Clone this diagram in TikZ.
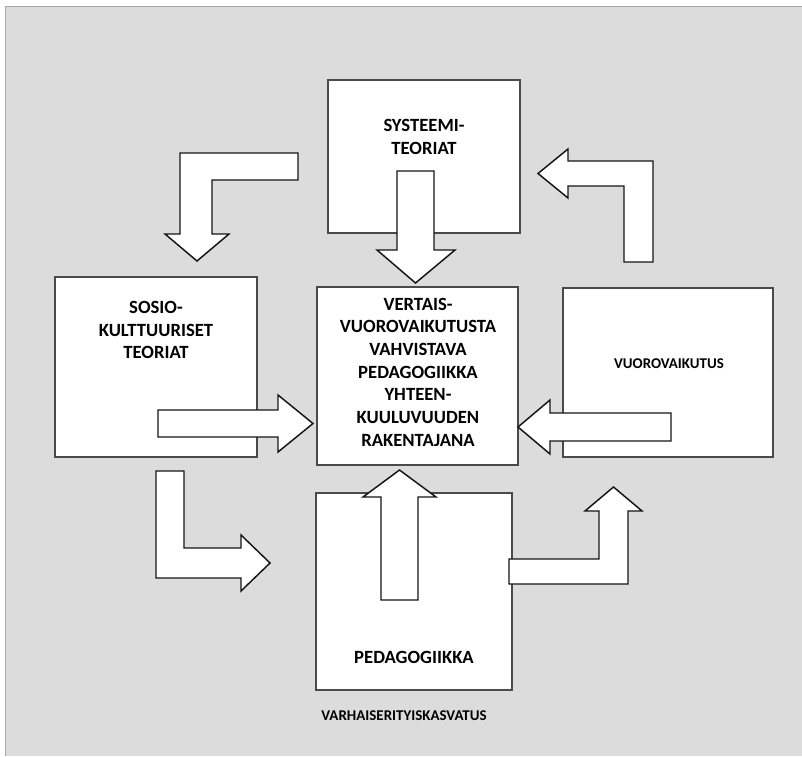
\documentclass[tikz,border=0pt]{standalone}
\usepackage{fontspec}
\setmainfont{Carlito}
\definecolor{panelbg}{HTML}{DCDCDC}
\definecolor{frameline}{HTML}{A8A8A8}
\definecolor{boxline}{HTML}{4A4A4A}
\definecolor{arrowline}{HTML}{151515}
\begin{document}
\begin{tikzpicture}[x=0.75pt,y=-0.75pt,
  box/.style={draw=boxline, fill=white, line width=0.9pt, inner sep=0pt},
  blockarrow/.style={draw=arrowline, fill=white, line width=1.1pt, line join=miter},
  boxtext/.style={align=center, font=\bfseries\fontsize{14}{17}\selectfont, inner sep=0pt},
]
% canvas
\useasboundingbox (0,0) rectangle (802,756);
\fill[panelbg] (5,6) rectangle (802,756);
\draw[frameline, line width=1.3pt] (5.5,756) -- (5.5,6.5) -- (802,6.5);

% boxes
\node[box, minimum width=144pt, minimum height=114.75pt] (sys) at (424,156.5) {};
\node[box, minimum width=151.5pt, minimum height=135pt] (soc) at (156,367) {};
\node[box, minimum width=150.75pt, minimum height=133.5pt] (ctr) at (417.5,376) {};
\node[box, minimum width=157.5pt, minimum height=126.75pt] (vuo) at (668,372.5) {};
\node[box, minimum width=147pt, minimum height=147.75pt] (ped) at (414,591.5) {};

% labels
\node[boxtext] (systxt) at (424,137) {SYSTEEMI-\\TEORIAT};
\node[boxtext] (soctxt) at (156,330) {SOSIO-\\KULTTUURISET\\TEORIAT};
\node[boxtext] (ctrtxt) at (418,372) {VERTAIS-\\VUOROVAIKUTUSTA\\VAHVISTAVA\\PEDAGOGIIKKA\\YHTEEN-\\KUULUVUUDEN\\RAKENTAJANA};
\node[boxtext, font=\bfseries\fontsize{11.2}{13}\selectfont] (vuotxt) at (669,364) {VUOROVAIKUTUS};
\node[boxtext] (pedtxt) at (414,657) {PEDAGOGIIKKA};
\node[boxtext, font=\bfseries\fontsize{11.2}{13}\selectfont] (foot) at (404,716) {VARHAISERITYISKASVATUS};

% block arrows into the centre
\draw[blockarrow] (397,171) -- (434,171) -- (434,250) -- (455,250) -- (415.5,283) -- (377,250) -- (397,250) -- cycle;
\draw[blockarrow] (158,410) -- (278,410) -- (278,395) -- (313,423.5) -- (278,452) -- (278,437) -- (158,437) -- cycle;
\draw[blockarrow] (671,413) -- (550,413) -- (550,400) -- (518,427) -- (550,454) -- (550,441) -- (671,441) -- cycle;
\draw[blockarrow] (381,600) -- (381,497) -- (363,497) -- (399.5,470) -- (436,497) -- (418,497) -- (418,600) -- cycle;

% bent arrows around the ring
\draw[blockarrow] (180,153) -- (298,153) -- (298,180) -- (212,180) -- (212,234) -- (229,234) -- (197,261) -- (165,234) -- (180,234) -- cycle;
\draw[blockarrow] (156,471) -- (184,471) -- (184,548) -- (241,548) -- (241,535) -- (270,563) -- (241,591) -- (241,578) -- (156,578) -- cycle;
\draw[blockarrow] (509,559) -- (599,559) -- (599,511) -- (585,511) -- (613.5,487) -- (642,511) -- (628,511) -- (628,584) -- (509,584) -- cycle;
\draw[blockarrow] (653,262) -- (624,262) -- (624,186) -- (568,186) -- (568,198) -- (538,173.5) -- (568,149) -- (568,161) -- (653,161) -- cycle;
\end{tikzpicture}
\end{document}
